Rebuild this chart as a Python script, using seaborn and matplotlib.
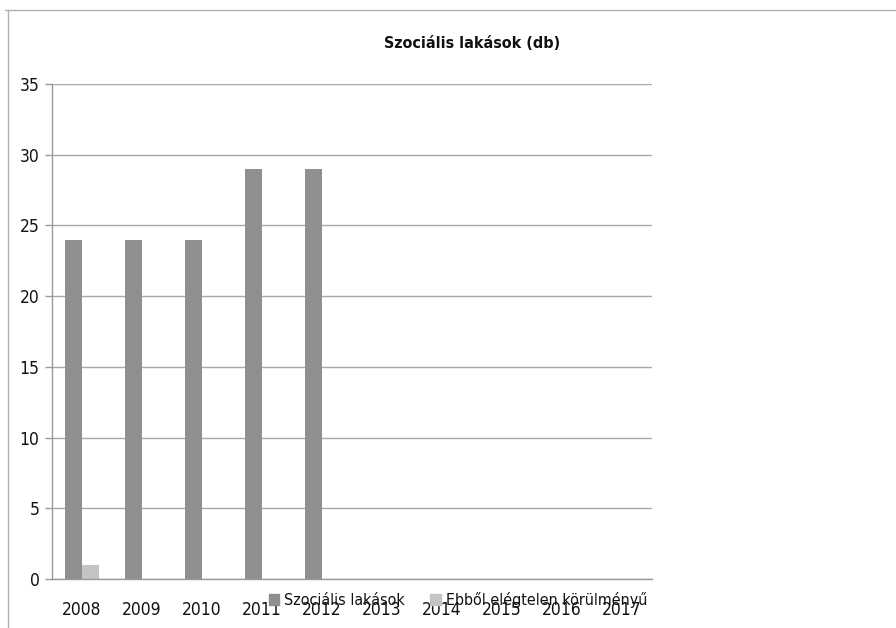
import pandas as pd
import numpy as np
import matplotlib
matplotlib.use("Agg")
import matplotlib.pyplot as plt
import seaborn as sns

years = ["2008", "2009", "2010", "2011", "2012", "2013", "2014", "2015", "2016", "2017"]
szocialis = [24, 24, 24, 29, 29, np.nan, np.nan, np.nan, np.nan, np.nan]
elegtelen = [1, np.nan, np.nan, np.nan, np.nan, np.nan, np.nan, np.nan, np.nan, np.nan]
series_names = ["Szociális lakások", "Ebből elégtelen körülményű"]
colors = ["#8f8f8f", "#c4c4c4"]

df = pd.DataFrame({
    "year": years * 2,
    "value": szocialis + elegtelen,
    "series": [series_names[0]] * len(years) + [series_names[1]] * len(years),
})

sns.set_style("white")
plt.rcParams["font.family"] = ["DejaVu Sans", "Liberation Sans"]
plt.rcParams["font.stretch"] = "condensed"
plt.rcParams["text.color"] = "#111111"
plt.rcParams["xtick.color"] = "#111111"
plt.rcParams["ytick.color"] = "#111111"

fig = plt.figure(figsize=(8.96, 6.28), dpi=100)
ax = fig.add_axes([52 / 896, 1 - 579 / 628, 600 / 896, 495 / 628])

sns.barplot(data=df, x="year", y="value", hue="series", order=years,
            hue_order=series_names, palette=colors, width=0.56,
            saturation=1, linewidth=0, ax=ax, legend=False)

ax.set_ylim(0, 35)
ax.set_xlim(-0.5, len(years) - 0.5)
ax.set_yticks(range(0, 36, 5))
ax.yaxis.grid(True, color="#a8a8a8", linewidth=1)
ax.set_axisbelow(True)
ax.set_xlabel("")
ax.set_ylabel("")

# category boundary ticks on x axis
ax.set_xticks(np.arange(-0.5, len(years), 1), minor=True)
ax.tick_params(axis="x", which="minor", length=6, color="#999999", width=1, direction="out")
ax.tick_params(axis="x", which="major", length=0, labelsize=12.5, pad=16)
ax.tick_params(axis="y", length=5, color="#999999", width=1, labelsize=12.5, pad=4, left=True)

for side in ["top", "right"]:
    ax.spines[side].set_visible(False)
for side in ["left", "bottom"]:
    ax.spines[side].set_color("#999999")
    ax.spines[side].set_linewidth(1)

fig.text(472 / 896, 1 - 43 / 628, "Szociális lakások (db)", ha="center", va="center",
         fontsize=11.5, fontweight="bold")

handles = [plt.Rectangle((0, 0), 1, 1, color=c) for c in colors]
fig.legend(handles, series_names, loc="center", bbox_to_anchor=(458 / 896, 1 - 600 / 628),
           ncol=2, frameon=False, fontsize=11.5, handlelength=0.65, handleheight=0.65,
           handletextpad=0.3, columnspacing=1.6)

# outer chart border
fig.add_artist(plt.Line2D([5 / 896, 1], [1 - 10 / 628, 1 - 10 / 628], color="#b0b0b0", linewidth=1))
fig.add_artist(plt.Line2D([8 / 896, 8 / 896], [0, 1 - 10 / 628], color="#b0b0b0", linewidth=1))

fig.savefig("out.png", dpi=100)
